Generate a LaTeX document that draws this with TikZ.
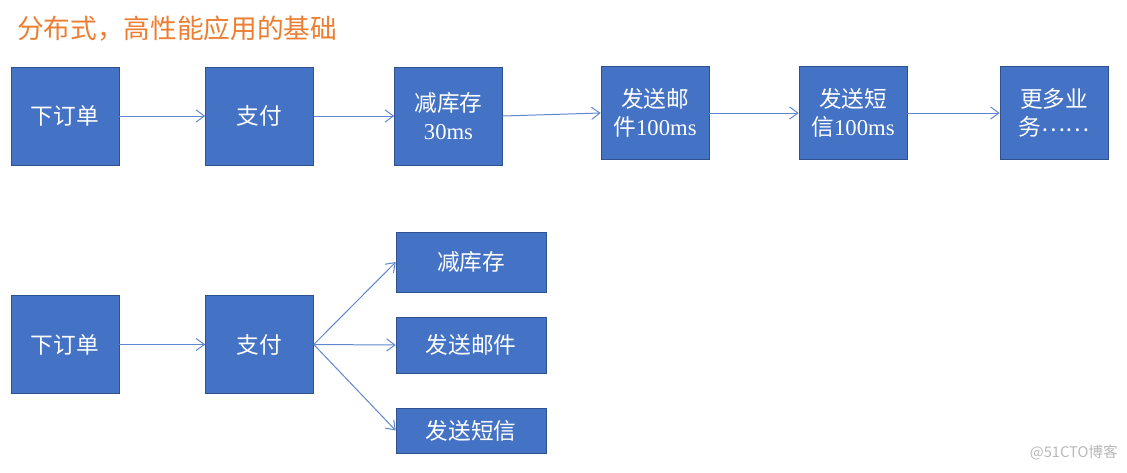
\documentclass[tikz,border=0pt]{standalone}
\usepackage{fontspec}
\setmainfont{Liberation Serif}
\newfontfamily\cjk{Noto Sans CJK SC}
\usepackage{tikz}
\usetikzlibrary{arrows.meta, positioning}

\definecolor{boxblue}{HTML}{4472C4}
\definecolor{boxedge}{HTML}{2F528F}
\definecolor{titleorange}{HTML}{ED7D31}

\begin{document}
\begin{tikzpicture}[
			x=0.75pt, y=-0.75pt,
			box/.style={draw=boxedge, fill=boxblue, text=white, align=center, inner sep=0pt,
				minimum width=81pt, minimum height=73.5pt, font=\fontsize{17}{21.5}\selectfont},
			widebox/.style={box, minimum width=112.5pt, minimum height=44pt},
			arrow/.style={-{Straight Barb[length=2.2mm, width=3.2mm]}, line width=0.75pt, draw=boxblue!85}
			]
			\useasboundingbox (0,0) rectangle (1127,472);
			
			% --- Title ---
			\node[anchor=west, inner sep=0pt, text=titleorange, font=\cjk\fontsize{20}{24}\selectfont] (title) at (17,29) {分布式，高性能应用的基础};
			
			% --- Serial chain ---
			\node[box] (order) at (65,116) {\cjk 下订单};
			\node[box] (pay) at (259.5,116) {\cjk 支付};
			\node[box] (stock) at (448.5,116) {{\cjk 减库存}\\30ms};
			\node[box, minimum height=69.75pt] (mail) at (655,113) {{\cjk 发送邮}\\{\cjk 件}100ms};
			\node[box, minimum height=69.75pt] (sms) at (853,113) {{\cjk 发送短}\\{\cjk 信}100ms};
			\node[box, minimum height=69.75pt] (more) at (1054,113) {{\cjk 更多业}\\{\cjk 务\raisebox{0.35ex}{……}}};
			
			\draw[arrow] (order) -- (pay);
			\draw[arrow] (pay) -- (stock);
			\draw[arrow] (stock.east) -- (mail.west);
			\draw[arrow] (mail) -- (sms);
			\draw[arrow] (sms) -- (more);
			
			% --- Parallel fan-out ---
			\node[box] (order2) at (65,344.5) {\cjk 下订单};
			\node[box] (pay2) at (259.5,344.5) {\cjk 支付};
			\node[widebox, minimum height=45pt] (stock2) at (471,262) {\cjk 减库存};
			\node[widebox, minimum height=42pt] (mail2) at (471,345) {\cjk 发送邮件};
			\node[widebox, minimum height=33.75pt] (sms2) at (471,430.5) {\cjk 发送短信};
			
			\draw[arrow] (order2) -- (pay2);
			\draw[arrow] (pay2.east) -- (stock2.west);
			\draw[arrow] (pay2.east) -- (mail2.west);
			\draw[arrow] (pay2.east) -- (sms2.west);
			
			% --- Watermark ---
			\node[anchor=east, inner sep=0pt, text=black!28, font=\cjk\fontsize{11}{13}\selectfont] (mark) at (1118,453) {@51CTO博客};
			
	\end{tikzpicture}
\end{document}
